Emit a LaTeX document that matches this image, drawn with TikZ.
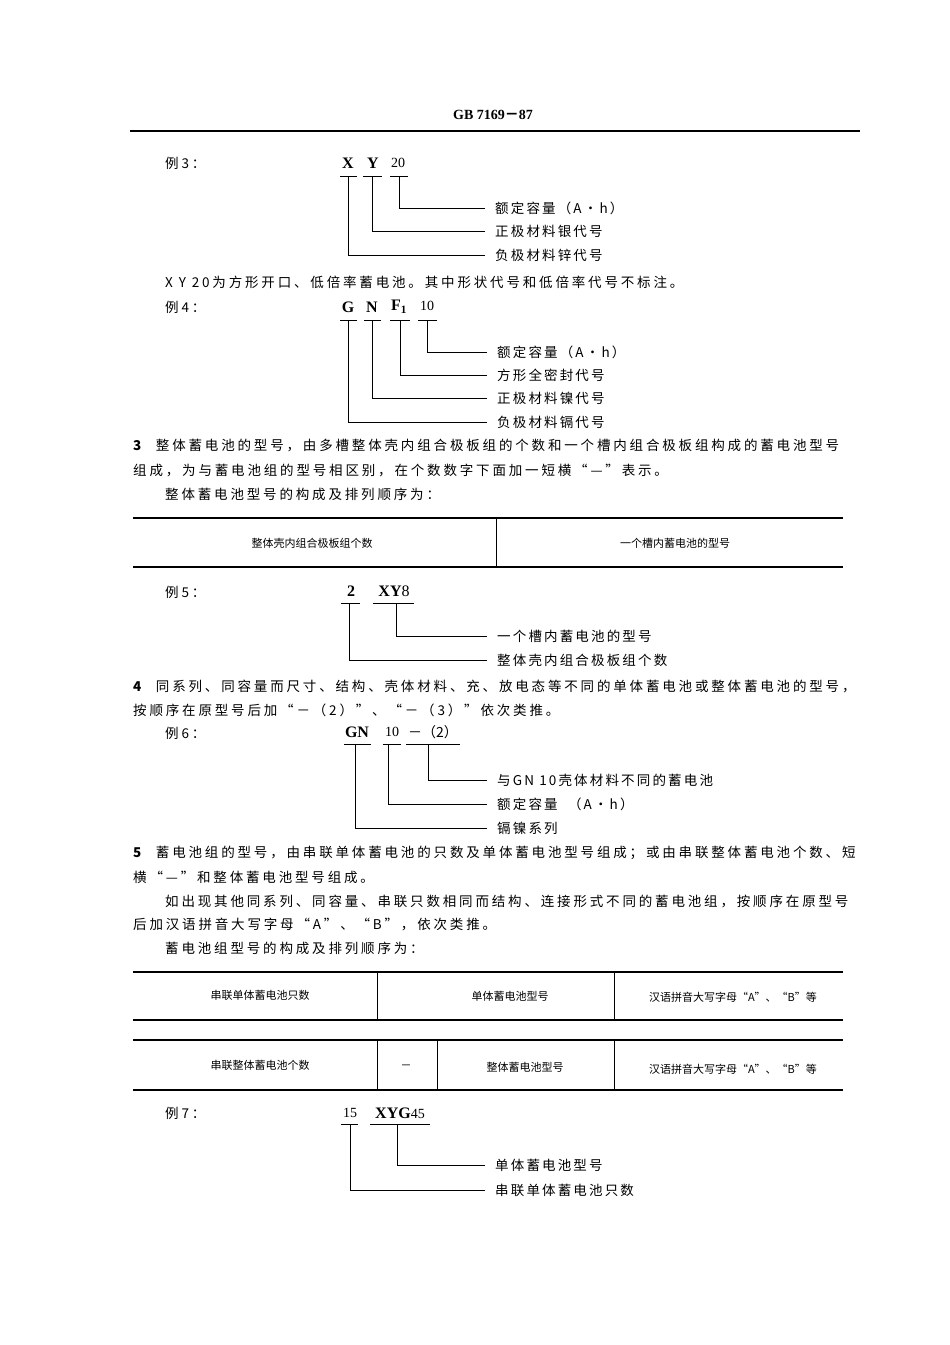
\documentclass[tikz,border=0pt]{standalone}
\usepackage{fontspec}
\setmainfont{Liberation Serif}
\newfontfamily\cjkb[LetterSpace=21]{Noto Sans CJK SC}
\newfontfamily\cjkl[LetterSpace=16]{Noto Sans CJK SC}
\newfontfamily\cjkt{Noto Sans CJK SC}
\begin{document}
\begin{tikzpicture}[x=1pt,y=-1pt,
  body/.style={anchor=west,inner sep=0pt,font=\cjkb\fontsize{13.5}{14}\selectfont},
  lbl/.style={anchor=west,inner sep=0pt,font=\cjkl\fontsize{13.5}{14}\selectfont},
  cell/.style={inner sep=0pt,font=\cjkt\fontsize{11}{12}\selectfont},
  code/.style={inner sep=0pt,font=\bfseries\fontsize{16}{17}\selectfont},
  num/.style={inner sep=0pt,font=\fontsize{14}{15}\selectfont},
  ul/.style={line width=1pt},
  lead/.style={line width=0.9pt},
  rule/.style={line width=1.4pt}]
\useasboundingbox (0,0) rectangle (950,1345);
\fill[white] (0,0) rectangle (950,1345);
% header
\node[code,font=\bfseries\fontsize{14}{15}\selectfont] (hd) at (493,115) {GB\ 7169{\cjkt－}87};
\coordinate (r1a) at (130,131); \coordinate (r1b) at (860,131);
\draw[line width=1.2pt] (r1a) -- (r1b);

% Example 3
\node[body] (e3) at (165,163) {例3：};
\node[code] (x3) at (348,163) {X};
\node[code] (y3) at (373,163) {Y};
\node[num] (n3) at (398,163) {20};
\draw[ul] (340,176) -- (357,176) (363,176) -- (382,176) (390,176) -- (408,176);
\node[lbl] (l3a) at (495,208) {额定容量（A·h）};
\node[lbl] (l3b) at (495,231) {正极材料银代号};
\node[lbl] (l3c) at (495,255) {负极材料锌代号};
\draw[lead] (399,176) |- ([xshift=-10pt]l3a.west);
\draw[lead] (372,176) |- ([xshift=-10pt]l3b.west);
\draw[lead] (348,176) |- ([xshift=-10pt]l3c.west);
\node[body] (t3) at (165,282) {X Y 20为方形开口、低倍率蓄电池。其中形状代号和低倍率代号不标注。};

% Example 4
\node[body] (e4) at (165,307) {例4：};
\node[code] (g4) at (348,307) {G};
\node[code] (nn4) at (372,307) {N};
\node[code] (f4) at (399,307) {F\textsubscript{1}};
\node[num] (n4) at (427,306) {10};
\draw[ul] (340,320) -- (357,320) (364,320) -- (381,320) (390,320) -- (410,320) (418,320) -- (437,320);
\node[lbl] (l4a) at (497,352) {额定容量（A·h）};
\node[lbl] (l4b) at (497,375) {方形全密封代号};
\node[lbl] (l4c) at (497,398) {正极材料镍代号};
\node[lbl] (l4d) at (497,422) {负极材料镉代号};
\draw[lead] (427,320) |- ([xshift=-10pt]l4a.west);
\draw[lead] (400,320) |- ([xshift=-10pt]l4b.west);
\draw[lead] (372,320) |- ([xshift=-10pt]l4c.west);
\draw[lead] (348,320) |- ([xshift=-10pt]l4d.west);

% Para 3
\node[body] (p3a) at (133,446) {\textbf{3}\ \ 整体蓄电池的型号，由多槽整体壳内组合极板组的个数和一个槽内组合极板组构成的蓄电池型号};
\node[body] (p3b) at (133,470) {组成，为与蓄电池组的型号相区别，在个数数字下面加一短横“—”表示。};
\node[body] (p3c) at (165,494) {整体蓄电池型号的构成及排列顺序为：};

% Table 1
\draw[rule] (133,518) -- (843,518);
\draw[rule] (133,567) -- (843,567);
\draw[line width=0.8pt] (496,518) -- (496,567);
\node[cell] (c11) at (312,543) {整体壳内组合极板组个数};
\node[cell] (c12) at (675,543) {一个槽内蓄电池的型号};

% Example 5
\node[body] (e5) at (165,592) {例5：};
\node[code] (two5) at (351,591) {2};
\node[code] (xy5) at (394,591) {XY\mdseries 8};
\draw[ul] (341,603) -- (360,603) (373,603) -- (414,603);
\node[lbl] (l5a) at (497,636) {一个槽内蓄电池的型号};
\node[lbl] (l5b) at (497,660) {整体壳内组合极板组个数};
\draw[lead] (396,603) |- ([xshift=-10pt]l5a.west);
\draw[lead] (349,603) |- ([xshift=-10pt]l5b.west);

% Para 4
\node[body] (p4a) at (133,686) {\textbf{4}\ \ 同系列、同容量而尺寸、结构、壳体材料、充、放电态等不同的单体蓄电池或整体蓄电池的型号，};
\node[body] (p4b) at (133,710) {按顺序在原型号后加“－（2）”、“－（3）”依次类推。};

% Example 6
\node[body] (e6) at (165,733) {例6：};
\node[code] (gn6) at (357,732) {GN};
\node[num] (ten6) at (392,732) {10};
\node[cell,font=\cjkt\fontsize{14}{15}\selectfont] (s6) at (433,732) {－（2）};
\draw[ul] (344,744) -- (371,744) (383,744) -- (401,744) (406,744) -- (460,744);
\node[lbl] (l6a) at (497,780) {与GN 10壳体材料不同的蓄电池};
\node[lbl] (l6b) at (497,804) {额定容量\ \ （A·h）};
\node[lbl] (l6c) at (497,828) {镉镍系列};
\draw[lead] (428,744) |- ([xshift=-10pt]l6a.west);
\draw[lead] (388,744) |- ([xshift=-10pt]l6b.west);
\draw[lead] (355,744) |- ([xshift=-10pt]l6c.west);

% Para 5
\node[body] (p5a) at (133,853) {\textbf{5}\ \ 蓄电池组的型号，由串联单体蓄电池的只数及单体蓄电池型号组成；或由串联整体蓄电池个数、短};
\node[body] (p5b) at (133,877) {横“—”和整体蓄电池型号组成。};
\node[body] (p5c) at (165,901) {如出现其他同系列、同容量、串联只数相同而结构、连接形式不同的蓄电池组，按顺序在原型号};
\node[body] (p5d) at (133,924) {后加汉语拼音大写字母“A”、“B”，依次类推。};
\node[body] (p5e) at (165,948) {蓄电池组型号的构成及排列顺序为：};

% Table 2
\draw[rule] (133,972) -- (843,972);
\draw[rule] (133,1020) -- (843,1020);
\draw[line width=0.8pt] (377,972) -- (377,1020) (614,972) -- (614,1020);
\node[cell] (c21) at (260,995) {串联单体蓄电池只数};
\node[cell] (c22) at (510,996) {单体蓄电池型号};
\node[cell] (c23) at (733,997) {汉语拼音大写字母“A”、“B”等};

% Table 3
\draw[rule] (133,1040) -- (843,1040);
\draw[rule] (133,1090) -- (843,1090);
\draw[line width=0.8pt] (377,1040) -- (377,1090) (437,1040) -- (437,1090) (614,1040) -- (614,1090);
\node[cell] (c31) at (260,1065) {串联整体蓄电池个数};
\node[cell] (c32) at (406,1067) {－};
\node[cell] (c33) at (525,1067) {整体蓄电池型号};
\node[cell] (c34) at (733,1069) {汉语拼音大写字母“A”、“B”等};

% Example 7
\node[body] (e7) at (165,1113) {例7：};
\node[num] (n7) at (350,1113) {15};
\node[code] (xyg7) at (400,1113) {XYG\mdseries\fontsize{14}{15}\selectfont 45};
\draw[ul] (341,1124) -- (358,1124) (370,1124) -- (430,1124);
\node[lbl] (l7a) at (495,1165) {单体蓄电池型号};
\node[lbl] (l7b) at (495,1190) {串联单体蓄电池只数};
\draw[lead] (397,1124) |- ([xshift=-10pt]l7a.west);
\draw[lead] (350,1124) |- ([xshift=-10pt]l7b.west);
\end{tikzpicture}
\end{document}
